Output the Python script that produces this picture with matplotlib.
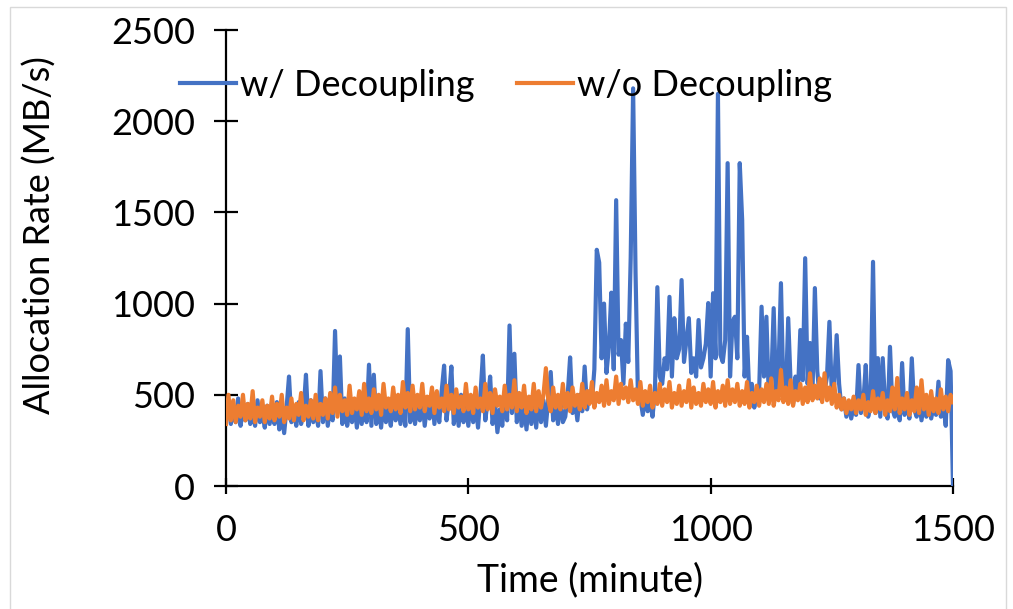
import matplotlib
matplotlib.use("Agg")
import matplotlib.pyplot as plt
from matplotlib.patches import Rectangle

# ---------------- data (5-minute samples) ----------------
minutes = list(range(0, 1501, 5))

w_decoupling = [
    # 0-95
    380, 460, 340, 440, 350, 480, 330, 420, 360, 450, 340, 410, 330, 470, 350, 400, 320, 440, 340, 420,
    # 100-195
    340, 460, 310, 400, 290, 430, 600, 350, 420, 330, 460, 340, 410, 610, 330, 470, 350, 420, 330, 630,
    # 200-295
    350, 480, 330, 440, 360, 850, 420, 710, 340, 480, 330, 420, 350, 460, 320, 440, 340, 470, 350, 665,
    # 300-395
    330, 610, 340, 450, 320, 470, 350, 420, 330, 480, 360, 440, 340, 460, 330, 860, 350, 470, 340, 440,
    # 400-495
    360, 480, 330, 450, 370, 510, 340, 470, 350, 520, 660, 360, 480, 655, 340, 460, 330, 500, 350, 440,
    # 500-595
    330, 480, 350, 460, 320, 500, 715, 360, 470, 600, 340, 460, 295, 420, 330, 500, 360, 880, 400, 725,
    # 600-695
    350, 470, 330, 450, 310, 480, 340, 460, 320, 500, 350, 470, 330, 480, 625, 360, 460, 340, 490, 350,
    # 700-795
    380, 500, 705, 400, 470, 360, 500, 410, 655, 420, 520, 460, 640, 1295, 1225, 700, 1000, 620, 760, 1060,
    # 800-895
    640, 1567, 720, 800, 560, 890, 680, 1250, 2180, 1170, 480, 480, 390, 500, 410, 470, 380, 520, 1090, 600,
    # 900-995
    560, 700, 640, 1037, 600, 920, 700, 750, 1129, 680, 800, 920, 620, 700, 600, 910, 650, 700, 780, 1003,
    # 1000-1095
    600, 1057, 700, 2150, 720, 680, 800, 1770, 600, 900, 928, 700, 1770, 1458, 600, 818, 480, 560, 430, 520,
    # 1100-1195
    520, 983, 600, 928, 480, 560, 975, 500, 640, 1112, 520, 480, 920, 560, 450, 600, 500, 855, 580, 1249,
    # 1200-1295
    560, 784, 500, 1085, 630, 480, 580, 520, 600, 900, 500, 560, 827, 560, 420, 480, 380, 460, 370, 440,
    # 1300-1395
    390, 663, 400, 460, 663, 380, 450, 1229, 400, 701, 380, 701, 440, 370, 763, 420, 380, 470, 360, 674,
    # 1400-1500
    390, 460, 370, 700, 420, 380, 470, 360, 450, 380, 460, 370, 440, 390, 572, 380, 450, 330, 690, 630, 0,
]

wo_decoupling = [
    # 0-95
    340, 500, 360, 470, 350, 440, 380, 500, 360, 450, 370, 520, 350, 430, 380, 470, 350, 440, 370, 490,
    # 100-195
    360, 450, 380, 500, 350, 430, 370, 480, 360, 450, 390, 510, 360, 440, 380, 470, 370, 500, 360, 450,
    # 200-295
    390, 480, 370, 510, 400, 540, 380, 500, 410, 470, 390, 550, 400, 480, 420, 520, 390, 560, 410, 480,
    # 300-395
    400, 530, 420, 500, 390, 560, 430, 480, 410, 540, 420, 500, 400, 570, 430, 510, 410, 550, 420, 500,
    # 400-495
    430, 560, 410, 490, 440, 540, 400, 520, 430, 480, 410, 550, 420, 500, 400, 530, 430, 490, 410, 560,
    # 500-595
    420, 500, 400, 540, 430, 480, 410, 560, 420, 510, 400, 530, 440, 490, 410, 550, 420, 500, 430, 580,
    # 600-695
    410, 510, 430, 550, 400, 490, 420, 560, 410, 520, 430, 500, 646, 470, 410, 540, 430, 500, 420, 560,
    # 700-795
    430, 510, 410, 540, 440, 500, 420, 560, 430, 520, 450, 570, 430, 510, 460, 550, 440, 580, 450, 520,
    # 800-895
    470, 600, 450, 560, 480, 540, 460, 580, 470, 530, 450, 570, 440, 520, 460, 550, 430, 510, 450, 560,
    # 900-995
    440, 530, 460, 570, 430, 510, 450, 550, 440, 520, 460, 580, 430, 540, 450, 510, 440, 560, 460, 530,
    # 1000-1095
    450, 570, 430, 520, 460, 550, 440, 580, 450, 530, 460, 560, 440, 520, 450, 570, 430, 510, 460, 550,
    # 1100-1195
    440, 530, 460, 560, 450, 590, 440, 520, 470, 636, 460, 540, 450, 580, 440, 520, 470, 560, 450, 540,
    # 1200-1295
    460, 618, 470, 550, 480, 590, 460, 618, 470, 540, 450, 560, 430, 500, 420, 480, 400, 470, 420, 490,
    # 1300-1395
    400, 470, 420, 500, 390, 460, 410, 520, 400, 480, 420, 510, 390, 470, 410, 540, 420, 592, 400, 480,
    # 1400-1500
    420, 510, 390, 470, 410, 540, 400, 580, 420, 500, 390, 520, 410, 480, 400, 530, 420, 490, 410, 500, 460,
]

series_labels = ["w/ Decoupling", "w/o Decoupling"]
series_colors = ["#4472C4", "#ED7D31"]
x_ticks = [0, 500, 1000, 1500]
y_ticks = [0, 500, 1000, 1500, 2000, 2500]
x_label = "Time (minute)"
y_label = "Allocation Rate (MB/s)"

# ---------------- figure ----------------
plt.rcParams['font.family'] = ['Lato', 'DejaVu Sans']
W, H = 1013, 609
fig = plt.figure(figsize=(W / 100, H / 100), dpi=100)
ax = fig.add_axes([226 / W, 1 - 486 / H, (953 - 226) / W, (486 - 30) / H])

l1, = ax.plot(minutes, w_decoupling, color=series_colors[0], lw=3.0, zorder=2,
              solid_joinstyle='round')
l2, = ax.plot(minutes, wo_decoupling, color=series_colors[1], lw=3.0, zorder=3,
              solid_joinstyle='round')

ax.set_xlim(0, 1500)
ax.set_ylim(0, 2500)
ax.set_xticks(x_ticks)
ax.set_yticks(y_ticks)
for s in ['top', 'right']:
    ax.spines[s].set_visible(False)
for s in ['left', 'bottom']:
    ax.spines[s].set_linewidth(1.6)
    ax.spines[s].set_color('black')
    ax.spines[s].set_zorder(1)
ax.tick_params(axis='y', direction='inout', length=17, width=1.6, pad=14, labelsize=26)
ax.tick_params(axis='x', direction='inout', length=12, width=1.6, pad=14, labelsize=26)

fig.text(40 / W, 1 - 235 / H, y_label, rotation=90, ha='center', va='center', fontsize=26)
fig.text(590 / W, 1 - 580 / H, x_label, ha='center', va='center', fontsize=27)

leg = fig.legend([l1, l2], series_labels, loc='center left',
                 bbox_to_anchor=(180 / W, 1 - 85 / H), ncol=2, frameon=False,
                 fontsize=26, handlelength=1.55, handletextpad=0.1,
                 columnspacing=1.2, borderpad=0, borderaxespad=0)
for h in leg.legend_handles:
    h.set_linewidth(3)

# light chart border
fig.patches.append(Rectangle((10 / W, -0.05), (1006 - 10) / W, 1.05 - 7 / H,
                             transform=fig.transFigure, fill=False,
                             edgecolor='#d9d9d9', lw=1.0))

fig.savefig("out.png", dpi=100)
